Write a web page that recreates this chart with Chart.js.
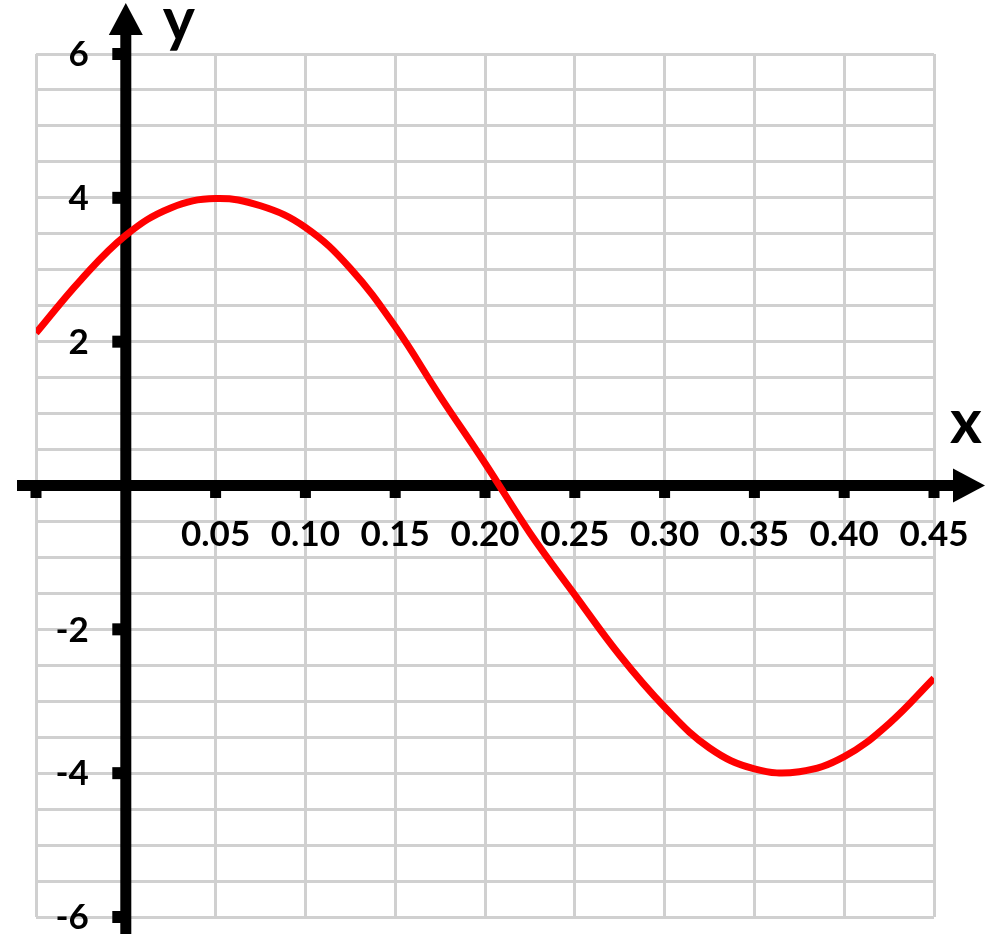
<!DOCTYPE html>
<html>
<head>
<meta charset="utf-8">
<script src="https://cdn.jsdelivr.net/npm/chart.js@4.4.0/dist/chart.umd.min.js"></script>
<style>
  html, body { margin: 0; padding: 0; background: #fff; }
  #plot { display: block; }
</style>
</head>
<body>
<canvas id="plot" width="1000" height="948"></canvas>
<script>
// values
const xValues = [-0.05, -0.025, 0, 0.025, 0.05, 0.075, 0.10, 0.125, 0.15, 0.175, 0.20,
                 0.225, 0.25, 0.275, 0.30, 0.325, 0.35, 0.375, 0.40, 0.425, 0.45];
const yValues = [2.12, 2.86, 3.48, 3.86, 3.99, 3.89, 3.59, 3.02, 2.21, 1.24, 0.31,
                 -0.66, -1.52, -2.36, -3.08, -3.65, -3.94, -3.98, -3.77, -3.31, -2.68];

const xTickValues = [-0.05, 0.05, 0.10, 0.15, 0.20, 0.25, 0.30, 0.35, 0.40, 0.45];
const xTickLabels = ["0.05", "0.10", "0.15", "0.20", "0.25", "0.30", "0.35", "0.40", "0.45"];
const xLabelValues = [0.05, 0.10, 0.15, 0.20, 0.25, 0.30, 0.35, 0.40, 0.45];
const yTickValues = [6, 4, 2, -2, -4, -6];
const yTickLabels = ["6", "4", "2", "-2", "-4", "-6"];

const FONT = "Lato, 'Open Sans', sans-serif";

// black axes through the origin, drawn under the curve
const crossAxes = {
    id: 'crossAxes',
    beforeDatasetsDraw(chart) {
        const ctx = chart.ctx;
        const xs = chart.scales.x;
        const ys = chart.scales.y;
        const x0 = xs.getPixelForValue(0);
        const y0 = ys.getPixelForValue(0);
        const top = ys.getPixelForValue(6);
        const bottom = ys.getPixelForValue(-6);
        const left = xs.getPixelForValue(-0.05);
        const right = xs.getPixelForValue(0.45);
        const w = 11;

        ctx.save();
        ctx.fillStyle = '#000';

        // y axis + arrow
        const yTip = top - 51;
        const yBase = yTip + 32;
        ctx.fillRect(x0 - w / 2, yBase - 1, w, bottom + 18 - yBase);
        ctx.beginPath();
        ctx.moveTo(x0, yTip);
        ctx.lineTo(x0 + 17, yBase);
        ctx.lineTo(x0 - 17, yBase);
        ctx.closePath();
        ctx.fill();

        // x axis + arrow
        const xTip = right + 51;
        const xBase = xTip - 32;
        ctx.fillRect(left - 19, y0 - w / 2, xBase + 1 - (left - 19), w);
        ctx.beginPath();
        ctx.moveTo(xTip, y0);
        ctx.lineTo(xBase, y0 - 17);
        ctx.lineTo(xBase, y0 + 17);
        ctx.closePath();
        ctx.fill();

        // tick marks
        xTickValues.forEach(v => {
            const px = xs.getPixelForValue(v);
            ctx.fillRect(px - w / 2, y0, w, 12.5);
        });
        yTickValues.forEach(v => {
            const py = ys.getPixelForValue(v);
            ctx.fillRect(x0 - 13.5, py - 6, 10, 12);
        });

        // tick labels
        ctx.font = "bold 35px " + FONT;
        ctx.textBaseline = 'middle';
        ctx.textAlign = 'center';
        xLabelValues.forEach((v, i) => {
            ctx.fillText(xTickLabels[i], xs.getPixelForValue(v), y0 + 49);
        });
        ctx.textAlign = 'right';
        yTickValues.forEach((v, i) => {
            ctx.fillText(yTickLabels[i], x0 - 37, ys.getPixelForValue(v) + 1);
        });

        // axis names
        ctx.font = "bold 61px " + FONT;
        ctx.textBaseline = 'alphabetic';
        ctx.textAlign = 'center';
        ctx.fillText('x', right + 32, y0 - 43);
        ctx.fillText('y', x0 + 53, top - 13);
        ctx.restore();
    }
};

new Chart(document.getElementById('plot').getContext('2d'), {
    type: 'line',
    data: {
        datasets: [{
            data: xValues.map((x, i) => ({ x, y: yValues[i] })),
            borderColor: '#ff0000',
            borderWidth: 7,
            pointRadius: 0,
            tension: 0.4,
            fill: false
        }]
    },
    options: {
        responsive: false,
        animation: false,
        devicePixelRatio: 1,
        layout: { padding: { left: 36, right: 66, top: 54, bottom: 31 } },
        plugins: { legend: { display: false }, tooltip: { enabled: false } },
        scales: {
            x: {
                type: 'linear',
                min: -0.05,
                max: 0.45,
                ticks: { display: false, stepSize: 0.05 },
                grid: { color: '#d0d0d0', lineWidth: 3, drawTicks: false },
                border: { display: false }
            },
            y: {
                type: 'linear',
                min: -6,
                max: 6,
                ticks: { display: false, stepSize: 0.5 },
                grid: { color: '#d0d0d0', lineWidth: 3, drawTicks: false },
                border: { display: false }
            }
        }
    },
    plugins: [crossAxes]
});
</script>
</body>
</html>
